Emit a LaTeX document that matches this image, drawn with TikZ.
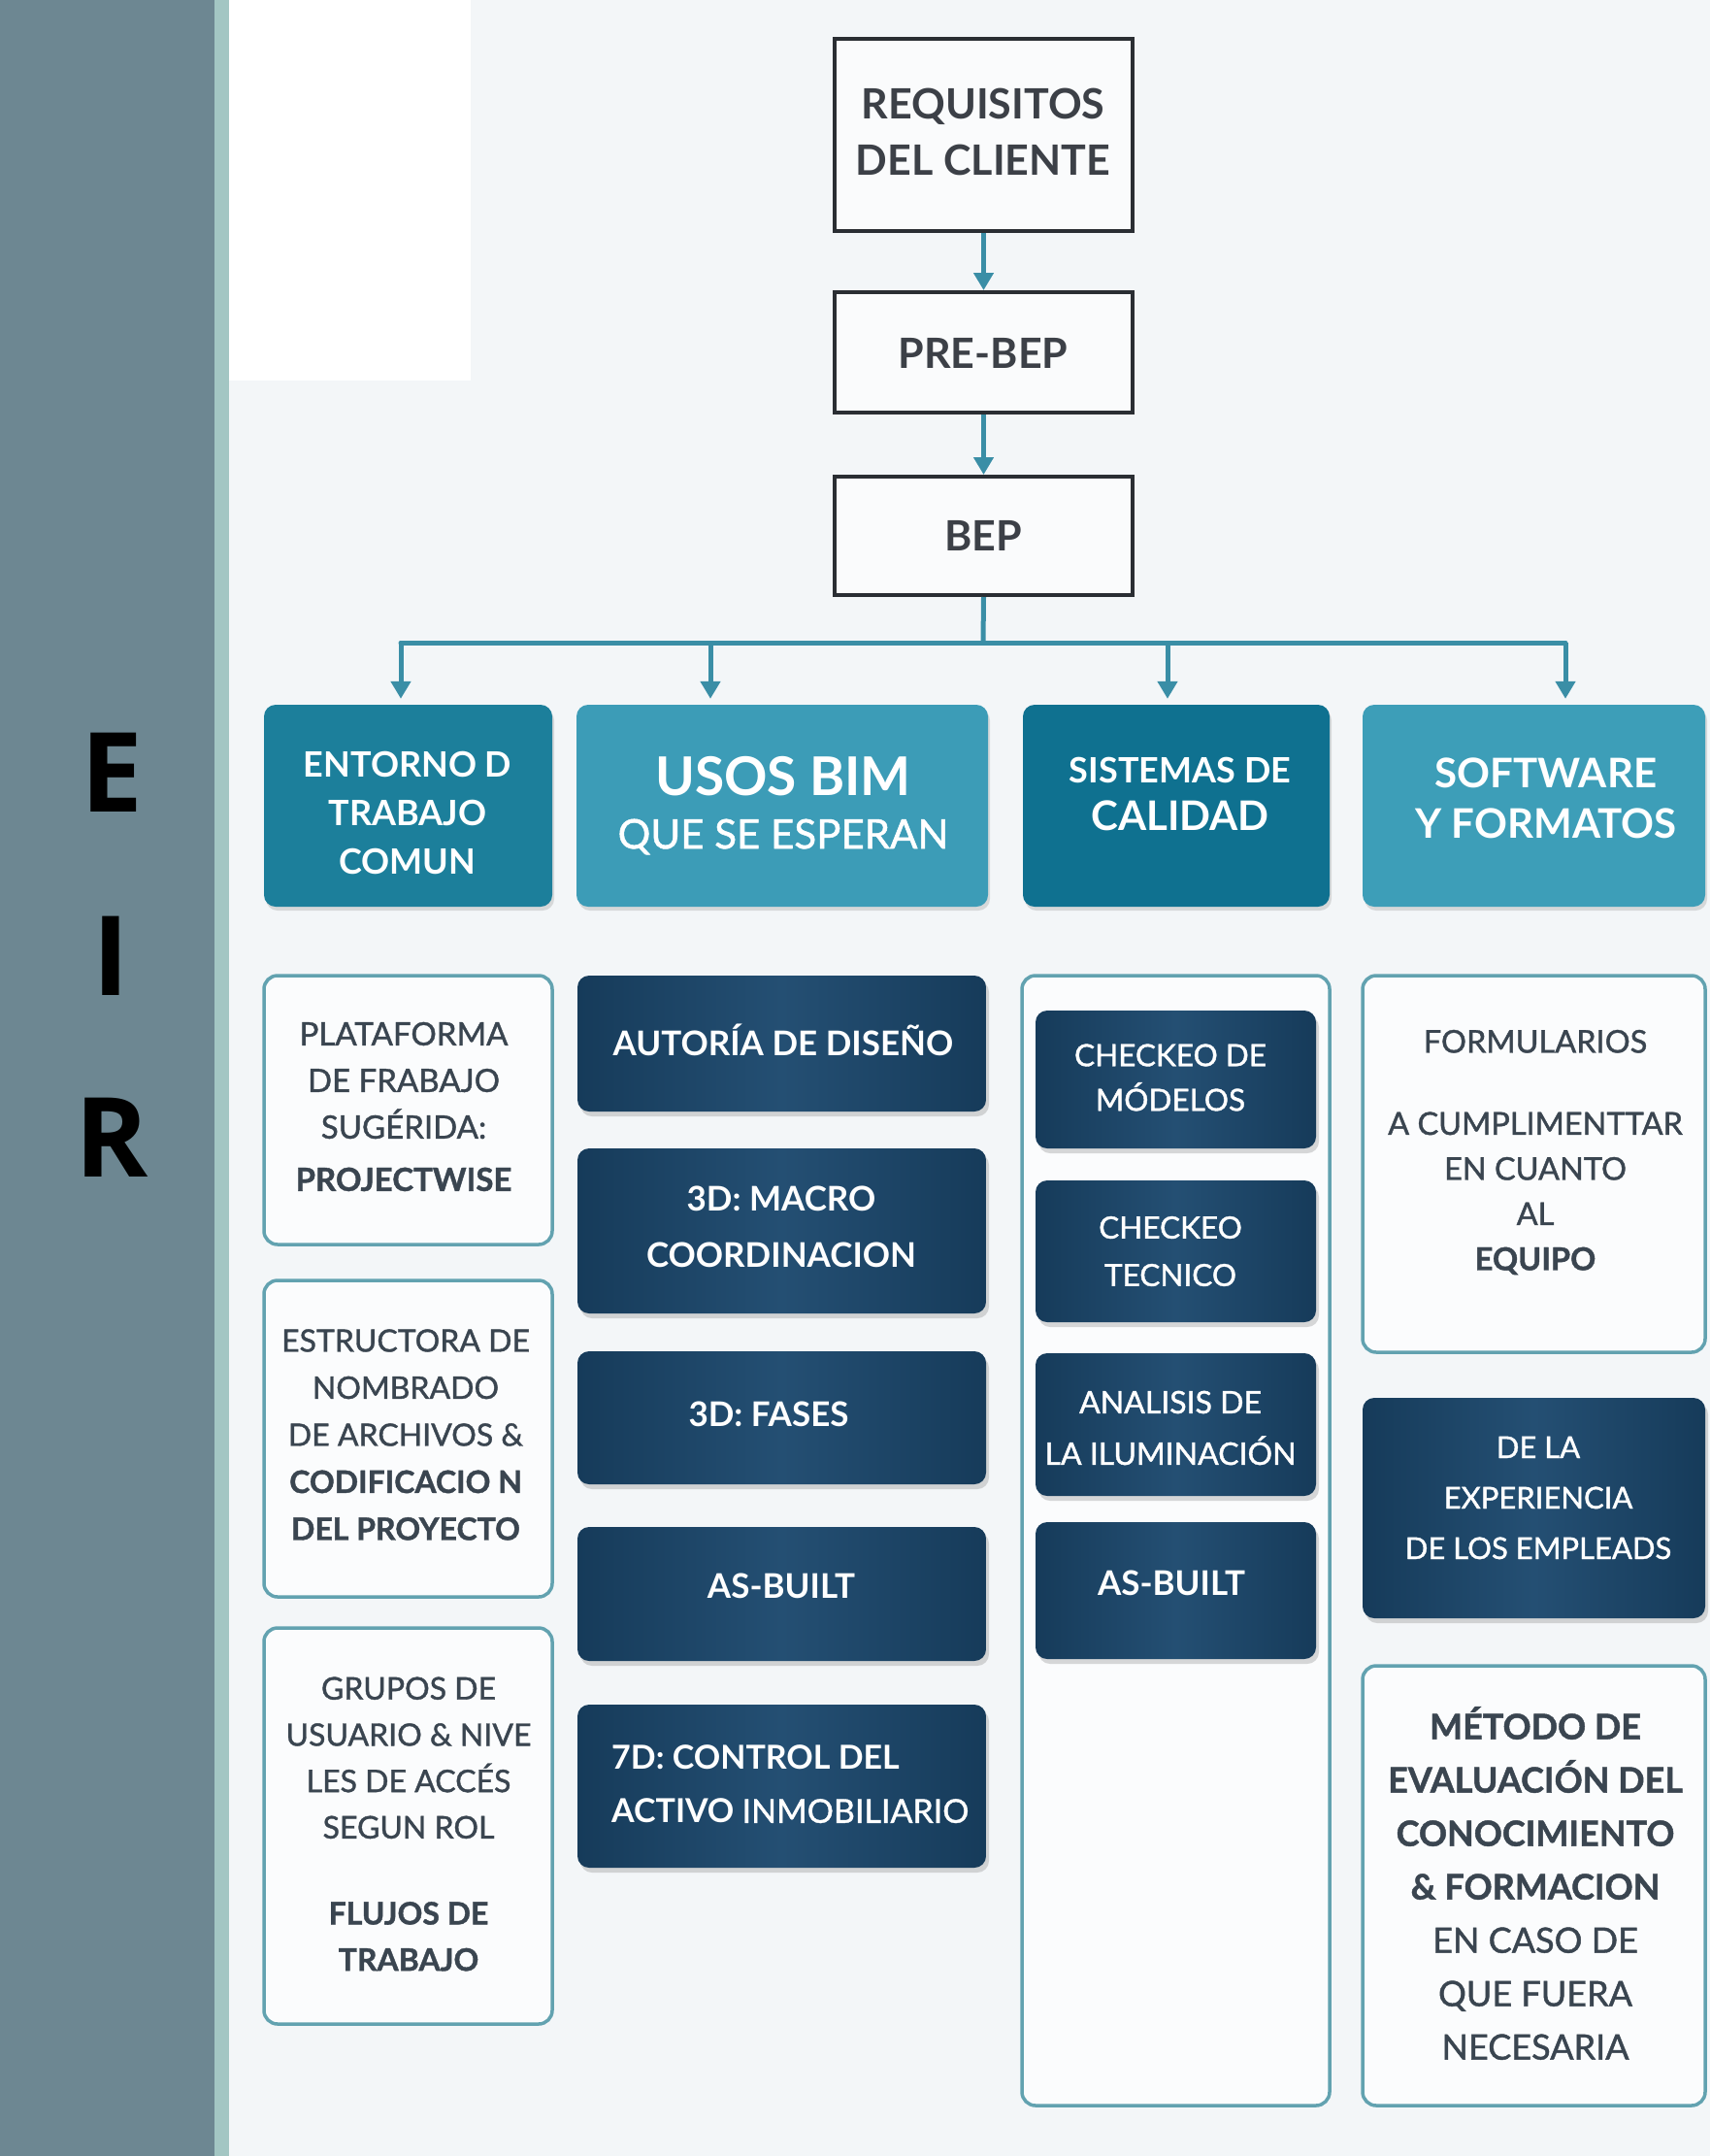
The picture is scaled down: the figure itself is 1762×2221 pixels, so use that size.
\documentclass[tikz,border=0pt]{standalone}
\usepackage{fontspec}
\setmainfont{Lato}
\newfontfamily\medfont{Lato}[FakeBold=1.2]
\newfontfamily\letterfont{Open Sans}
\usetikzlibrary{arrows.meta,shadows,fit}
\definecolor{bgc}{HTML}{F3F6F8}
\definecolor{sidec}{HTML}{6D8792}
\definecolor{stripc}{HTML}{A3C6C3}
\definecolor{topline}{HTML}{2A2E33}
\definecolor{toptext}{HTML}{3C4047}
\definecolor{arrc}{HTML}{3A8EA6}
\definecolor{hdA}{HTML}{1C7F9B}
\definecolor{hdB}{HTML}{3C9CB7}
\definecolor{hdC}{HTML}{0F7190}
\definecolor{hdD}{HTML}{3D9EB8}
\definecolor{navyD}{HTML}{163B5A}
\definecolor{navyL}{HTML}{244F73}
\definecolor{olc}{HTML}{62A2B0}
\definecolor{coltext}{HTML}{3A4550}
\tikzset{
  topbox/.style={draw=topline, line width=4pt, fill=white!60!bgc, inner sep=0pt},
  hdr/.style={rounded corners=12pt, inner sep=0pt, draw=none, drop shadow={opacity=0.25, shadow xshift=2pt, shadow yshift=-4pt}},
  navybox/.style={rounded corners=12pt, inner sep=0pt, left color=navyD, right color=navyD, middle color=navyL, drop shadow={opacity=0.3, shadow xshift=3pt, shadow yshift=-5pt}},
  olbox/.style={rounded corners=14pt, inner sep=0pt, draw=olc, line width=3.5pt, fill=white!70!bgc},
  conn/.style={arrc, line width=5pt},
  arr/.style={arrc, line width=5pt, -{Triangle[width=20pt,length=18pt]}},
  ttext/.style={text=toptext, font=\bfseries\fontsize{43}{58}\selectfont, align=center, inner sep=0pt},
  wtext/.style={text=white, align=center, inner sep=0pt},
  ctext/.style={text=coltext, align=center, inner sep=0pt, font=\medfont\fontsize{33}{48}\selectfont},
  bigletter/.style={font=\letterfont\bfseries\fontsize{114}{114}\selectfont, text=black, inner sep=0pt}
}
\begin{document}
\begin{tikzpicture}[x=1pt,y=-1pt]
\useasboundingbox (0,0) rectangle (1762,2221);
\fill[bgc] (0,0) rectangle (1762,2221);
\fill[sidec] (0,0) rectangle (221,2221);
\fill[stripc] (221,0) rectangle (236,2221);
\fill[white] (236,0) rectangle (485,392);

% side letters
\node[bigletter] (lE) at (115,796) {E};
\node[bigletter] (lI) at (114,985) {I};
\node[bigletter] (lR) at (115,1172) {R};

% top chain
\node[topbox, fit={(860,40) (1167,238)}] (req) {};
\node[topbox, fit={(860,301) (1167,425)}] (pre) {};
\node[topbox, fit={(860,491) (1167,613)}] (bep) {};
\node[ttext] (treq) at (1013,136) {REQUISITOS\\DEL CLIENTE};
\node[ttext] (tpre) at (1013,364) {PRE-BEP};
\node[ttext] (tbep) at (1013,552) {BEP};

% headers
\node[hdr, fill=hdA, fit={(272,726) (569,934)}] (h1) {};
\node[hdr, fill=hdB, fit={(594,726) (1018,934)}] (h2) {};
\node[hdr, fill=hdC, fit={(1054,726) (1370,934)}] (h3) {};
\node[hdr, fill=hdD, fit={(1404,726) (1757,934)}] (h4) {};
\node[wtext, font=\bfseries\fontsize{36}{50}\selectfont] (th1) at (420,837) {ENTORNO D\\TRABAJO\\COMUN};
\node[wtext] (th2a) at (807,800) {\bfseries\fontsize{55}{60}\selectfont USOS BIM};
\node[wtext] (th2b) at (807,862) {\medfont\fontsize{42}{50}\selectfont QUE SE ESPERAN};
\node[wtext, font=\bfseries\fontsize{36}{49}\selectfont] (th3) at (1216,818) {SISTEMAS DE\\\fontsize{42}{49}\selectfont CALIDAD};
\node[wtext, font=\bfseries\fontsize{42}{52}\selectfont] (th4) at (1593,822) {SOFTWARE\\Y FORMATOS};

% connectors
\coordinate (jn) at (1013,662);
\coordinate (j1) at (413,662);
\coordinate (j2) at (732,662);
\coordinate (j3) at (1203,662);
\coordinate (j4) at (1613,662);
\draw[arr] (req.south) -- (pre.north);
\draw[arr] (pre.south) -- (bep.north);
\draw[conn] (bep.south) -- (jn);
\draw[conn, line cap=round] (j1) -- (j4);
\draw[arr, shorten >=6pt] (j1) -- (j1 |- h1.north);
\draw[arr, shorten >=6pt] (j2) -- (j2 |- h2.north);
\draw[arr, shorten >=6pt] (j3) -- (j3 |- h3.north);
\draw[arr, shorten >=6pt] (j4) -- (j4 |- h4.north);

% column 1
\node[olbox, fit={(272,1005) (569,1282)}] (c1a) {};
\node[olbox, fit={(272,1319) (569,1645)}] (c1b) {};
\node[olbox, fit={(272,1677) (569,2085)}] (c1c) {};
\node[ctext] (t1a) at (416,1140) {PLATAFORMA\\DE FRABAJO\\SUGÉRIDA:\\[6pt]\bfseries PROJECTWISE};
\node[ctext, font=\medfont\fontsize{32}{48.5}\selectfont] (t1b) at (418,1478) {ESTRUCTORA DE\\NOMBRADO\\DE ARCHIVOS \&\\\bfseries CODIFICACIO N\\\bfseries DEL PROYECTO};
\node[ctext, font=\medfont\fontsize{32}{47.7}\selectfont] (t1c) at (421,1879) {GRUPOS DE\\USUARIO \& NIVE\\LES DE ACCÉS\\SEGUN ROL\\[41pt]\bfseries FLUJOS DE\\\bfseries TRABAJO};

% column 2
\node[navybox, fit={(595,1005) (1016,1145)}] (c2a) {};
\node[navybox, fit={(595,1183) (1016,1353)}] (c2b) {};
\node[navybox, fit={(595,1392) (1016,1529)}] (c2c) {};
\node[navybox, fit={(595,1573) (1016,1711)}] (c2d) {};
\node[navybox, fit={(595,1756) (1016,1924)}] (c2e) {};
\node[wtext, font=\bfseries\fontsize{35}{58}\selectfont] (t2a) at (807,1071) {AUTORÍA DE DISEÑO};
\node[wtext, font=\bfseries\fontsize{35}{58}\selectfont] (t2b) at (805,1264) {3D: MACRO\\COORDINACION};
\node[wtext, font=\bfseries\fontsize{35}{58}\selectfont] (t2c) at (792,1457) {3D: FASES};
\node[wtext, font=\bfseries\fontsize{35}{58}\selectfont] (t2d) at (805,1634) {AS-BUILT};
\node[wtext, align=left, anchor=west, font=\fontsize{34}{55}\selectfont] (t2e) at (630,1838) {\bfseries 7D: CONTROL DEL\\\bfseries ACTIVO \mdseries\medfont INMOBILIARIO};

% column 3
\node[olbox, fit={(1053,1005) (1370,2169)}] (c3) {};
\node[navybox, fit={(1067,1041) (1356,1183)}] (c3a) {};
\node[navybox, fit={(1067,1216) (1356,1362)}] (c3b) {};
\node[navybox, fit={(1067,1394) (1356,1541)}] (c3c) {};
\node[navybox, fit={(1067,1568) (1356,1709)}] (c3d) {};
\node[wtext, font=\medfont\fontsize{31.5}{46}\selectfont] (t3a) at (1206,1110) {CHECKEO DE\\MÓDELOS};
\node[wtext, font=\medfont\fontsize{31.5}{49}\selectfont] (t3b) at (1206,1289) {CHECKEO\\TECNICO};
\node[wtext, font=\medfont\fontsize{32}{53}\selectfont] (t3c) at (1206,1471) {ANALISIS DE\\LA ILUMINACIÓN};
\node[wtext, font=\bfseries\fontsize{35}{50}\selectfont] (t3d) at (1207,1631) {AS-BUILT};

% column 4
\node[olbox, fit={(1404,1005) (1757,1393)}] (c4a) {};
\node[navybox, fit={(1404,1440) (1757,1667)}] (c4b) {};
\node[olbox, fit={(1404,1716) (1757,2169)}] (c4c) {};
\node[ctext, font=\medfont\fontsize{32.5}{46.5}\selectfont] (t4a) at (1582,1187) {FORMULARIOS\\[38pt]A CUMPLIMENTTAR\\EN CUANTO\\AL\\\bfseries EQUIPO};
\node[wtext, font=\medfont\fontsize{31}{52}\selectfont] (t4b) at (1585,1543) {DE LA\\EXPERIENCIA\\DE LOS EMPLEADS};
\node[ctext, font=\medfont\fontsize{36}{55}\selectfont] (t4c) at (1582,1940) {\bfseries MÉTODO DE\\\bfseries EVALUACIÓN DEL\\\bfseries CONOCIMIENTO\\\bfseries \& FORMACION\\EN CASO DE\\QUE FUERA\\NECESARIA};
\end{tikzpicture}
\end{document}
